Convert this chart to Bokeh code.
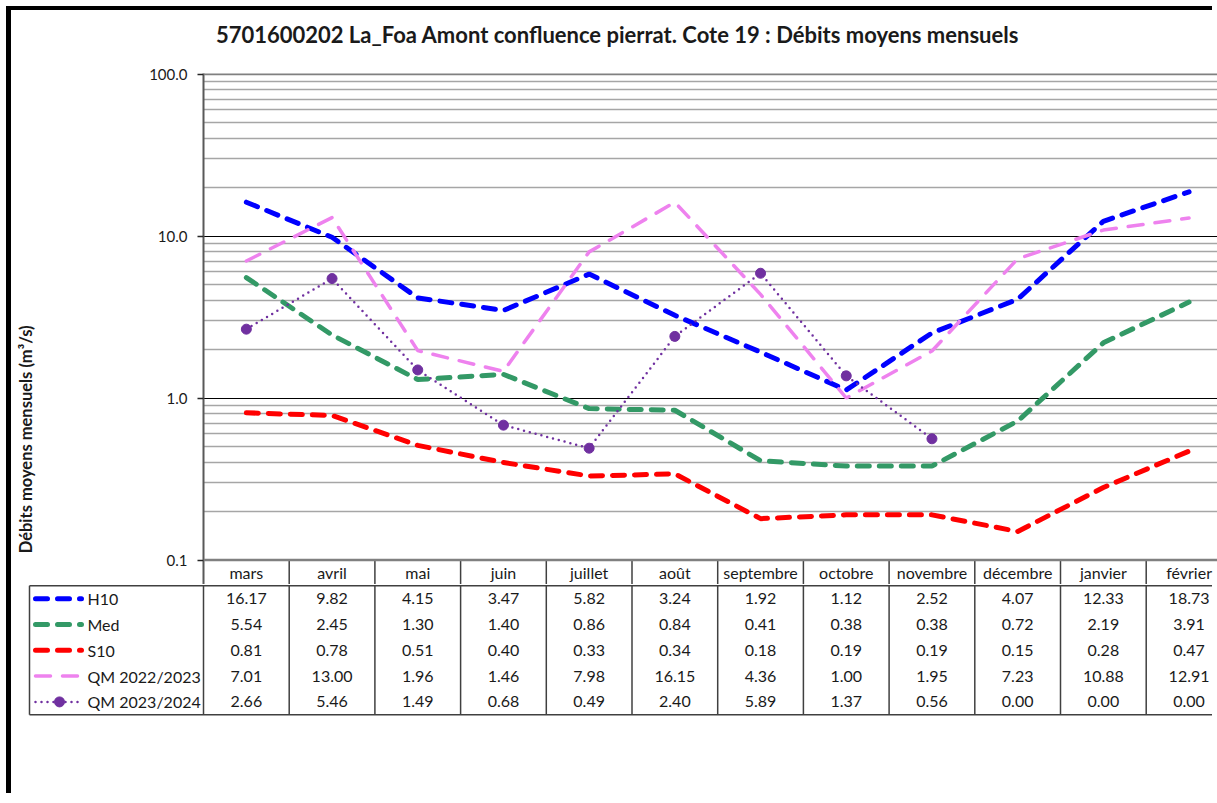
import math
from bokeh.plotting import figure
from bokeh.models import Range1d, FixedTicker, Span, PrintfTickFormatter, LinearScale
from bokeh.layouts import row
from bokeh.embed import file_html
from bokeh.resources import INLINE
from bokeh.core.properties import value

# ---------------- data ----------------
months = ["mars", "avril", "mai", "juin", "juillet", "août", "septembre",
          "octobre", "novembre", "décembre", "janvier", "février"]
h10 = [16.17, 9.82, 4.15, 3.47, 5.82, 3.24, 1.92, 1.12, 2.52, 4.07, 12.33, 18.73]
med = [5.54, 2.45, 1.30, 1.40, 0.86, 0.84, 0.41, 0.38, 0.38, 0.72, 2.19, 3.91]
s10 = [0.81, 0.78, 0.51, 0.40, 0.33, 0.34, 0.18, 0.19, 0.19, 0.15, 0.28, 0.47]
qm2223 = [7.01, 13.00, 1.96, 1.46, 7.98, 16.15, 4.36, 1.00, 1.95, 7.23, 10.88, 12.91]
qm2324 = [2.66, 5.46, 1.49, 0.68, 0.49, 2.40, 5.89, 1.37, 0.56, 0.00, 0.00, 0.00]
series_names = ["H10", "Med", "S10", "QM 2022/2023", "QM 2023/2024"]
y_ticks = [0.1, 1.0, 10.0, 100.0]

title_text = "5701600202 La_Foa Amont confluence pierrat. Cote 19 : Débits moyens mensuels"
ylabel_text = "Débits moyens mensuels (m³/s)"

FONT = "Lato"
TXT = "#1a1a1a"
LINE = "#404040"

# ---------------- layout geometry (page pixels) ----------------
OX, OY = 11, 10          # content origin (inside black border)
RIGHT = 1217
X0 = 203                 # left of plot area
XL = 100                 # split between y-label strip and chart
COL = 85.7               # column width
Y100, Y01 = 73.5, 559.5  # pixel rows of 100 and 0.1
DEC = (Y01 - Y100) / 3.0
T_BOT = 63               # bottom of title strip
P1_TOP, P1_BOT = 73, 584
RH = 25.8                # table row height
P2_BOT = 793
LEG_LEFT = 29

def xd(px):
    return (px - X0) / COL

def yd_log(py):
    return 10 ** (-1 + (Y01 - py) / DEC)

nrow = len(series_names)
ytop = nrow + 1

def yd_tbl(py):
    return ytop - (py - Y01) / RH

BORDER_TOP = {"margin-left": "6px", "margin-top": "6px",
              "border-left": "5px solid black", "border-top": "4px solid black"}
BORDER_LEFT = {"margin-left": "6px", "border-left": "5px solid black"}

# ---------------- title strip ----------------
T_H = T_BOT - OY + 4     # top border is counted inside the element box
pT = figure(width=RIGHT - OX, height=T_H, x_range=Range1d(OX, RIGHT),
            y_range=Range1d(OY + T_H, OY), x_axis_location=None, y_axis_location=None,
            toolbar_location=None, output_backend="svg", min_border=0)
pT.grid.visible = False
pT.outline_line_color = None
pT.text(x=[617], y=[34], text=[title_text], text_align="center", text_baseline="middle",
        text_font=value(FONT), text_font_style="bold", text_font_size="22px",
        text_color=TXT)
pT.styles = BORDER_TOP

# ---------------- y-label strip ----------------
pL = figure(width=XL - OX, height=P1_BOT - T_BOT, x_range=Range1d(OX, XL),
            y_range=Range1d(P1_BOT, T_BOT), x_axis_location=None, y_axis_location=None,
            toolbar_location=None, output_backend="svg", min_border=0)
pL.grid.visible = False
pL.outline_line_color = None
pL.text(x=[25], y=[436], text=[ylabel_text], angle=math.pi / 2, text_align="center",
        text_baseline="middle", text_font=value(FONT), text_font_style="bold",
        text_font_size="16.5px", text_color=TXT)

# ---------------- chart ----------------
n = len(months)
xs = [i + 0.5 for i in range(n)]

p1 = figure(width=RIGHT - XL, height=P1_BOT - T_BOT, y_axis_type="log",
            x_range=Range1d(0, xd(RIGHT)),
            y_range=Range1d(yd_log(P1_BOT), yd_log(P1_TOP)),
            x_axis_location=None, toolbar_location=None, output_backend="svg",
            min_border_left=X0 - XL, min_border_right=0,
            min_border_top=P1_TOP - T_BOT, min_border_bottom=0)
p1.extra_y_ranges = {"tbl": Range1d(yd_tbl(P1_BOT), yd_tbl(P1_TOP))}
p1.extra_y_scales = {"tbl": LinearScale()}
p1.outline_line_color = None
p1.xgrid.visible = False

minor = []
for d in y_ticks[:-1]:
    minor += [d * k for k in range(2, 10)]
p1.yaxis.ticker = FixedTicker(ticks=y_ticks, minor_ticks=minor)
p1.yaxis.formatter = PrintfTickFormatter(format="%.1f")
ax = p1.yaxis[0]
ax.axis_line_color = "#595959"
ax.axis_line_width = 2
ax.major_tick_out = 6
ax.major_tick_in = 0
ax.major_tick_line_color = "#262626"
ax.major_tick_line_width = 1.5
ax.minor_tick_out = 0
ax.minor_tick_in = 0
ax.major_label_standoff = 10
ax.major_label_text_font = FONT
ax.major_label_text_font_size = "15px"
ax.major_label_text_color = TXT

g = p1.ygrid[0]
g.grid_line_color = "black"
g.grid_line_width = 1
g.minor_grid_line_color = "#A6A6A6"
g.minor_grid_line_width = 1.5

for loc in (y_ticks[0], y_ticks[-1]):
    p1.add_layout(Span(location=loc, dimension="width", line_color="#808080", line_width=2.5))

styles = {
    "H10": dict(color="#0000FF", line_width=5, line_dash="12 10", line_cap="round"),
    "Med": dict(color="#339966", line_width=5, line_dash="12 10", line_cap="round"),
    "S10": dict(color="#FF0000", line_width=5, line_dash="12 10", line_cap="round"),
    "QM 2022/2023": dict(color="#EE82EE", line_width=3.5, line_dash="15 12", line_cap="round"),
    "QM 2023/2024": dict(color="#7030A0", line_width=2.5, line_dash="0 6", line_cap="round"),
}
vals = [h10, med, s10, qm2223, qm2324]

for name, v in zip(series_names, vals):
    st = styles[name]
    px_ = [x for x, y in zip(xs, v) if y > 0]
    py_ = [y for y in v if y > 0]
    p1.line(px_, py_, line_color=st["color"], line_width=st["line_width"],
            line_dash=st["line_dash"], line_cap=st["line_cap"])
    if name == "QM 2023/2024":
        p1.scatter(px_, py_, size=10, color=st["color"])

# header row of the data table (month names)
p1.segment(x0=list(range(1, n)), y0=[nrow] * (n - 1), x1=list(range(1, n)), y1=[ytop] * (n - 1),
           line_color=LINE, line_width=1.5, y_range_name="tbl")
p1.text(x=xs, y=[nrow + 0.5] * n, text=months, text_align="center",
        text_baseline="middle", text_font=value(FONT), text_font_size="16px",
        text_color=TXT, y_range_name="tbl")

# ---------------- data table body ----------------
p2 = figure(width=RIGHT - OX, height=P2_BOT - P1_BOT,
            x_range=Range1d(xd(OX), xd(RIGHT)),
            y_range=Range1d(yd_tbl(P2_BOT), yd_tbl(P1_BOT)),
            x_axis_location=None, y_axis_location=None, toolbar_location=None,
            output_backend="svg", min_border=0)
p2.grid.visible = False
p2.outline_line_color = None
p2.styles = BORDER_LEFT

legx = xd(LEG_LEFT)
x0s, y0s, x1s, y1s = [], [], [], []
for yy in (nrow, 0):
    x0s.append(legx); x1s.append(n); y0s.append(yy); y1s.append(yy)
x0s.append(legx); x1s.append(legx); y0s.append(0); y1s.append(nrow)
for i in range(n):
    x0s.append(i); x1s.append(i); y0s.append(0); y1s.append(nrow)
p2.segment(x0s, y0s, x1s, y1s, line_color=LINE, line_width=1.5)

for k, v in enumerate(vals):
    yy = nrow - k - 0.5
    p2.text(x=xs, y=[yy] * n, text=["%.2f" % a for a in v], text_align="center",
            text_baseline="middle", text_font=value(FONT), text_font_size="16px",
            text_color=TXT)
    st = styles[series_names[k]]
    p2.line([xd(35), xd(81)], [yy, yy], line_color=st["color"], line_width=st["line_width"],
            line_dash=st["line_dash"], line_cap=st["line_cap"])
    if series_names[k] == "QM 2023/2024":
        p2.scatter([xd(59)], [yy], size=10, color=st["color"])

p2.text(x=[xd(87)] * nrow, y=[nrow - k - 0.5 for k in range(nrow)], text=series_names,
        text_align="left", text_baseline="middle", text_font=value(FONT),
        text_font_size="16px", text_color=TXT)

mid = row(pL, p1, spacing=0)
mid.styles = BORDER_LEFT

open("out.html", "w").write(file_html([pT, mid, p2], INLINE))
